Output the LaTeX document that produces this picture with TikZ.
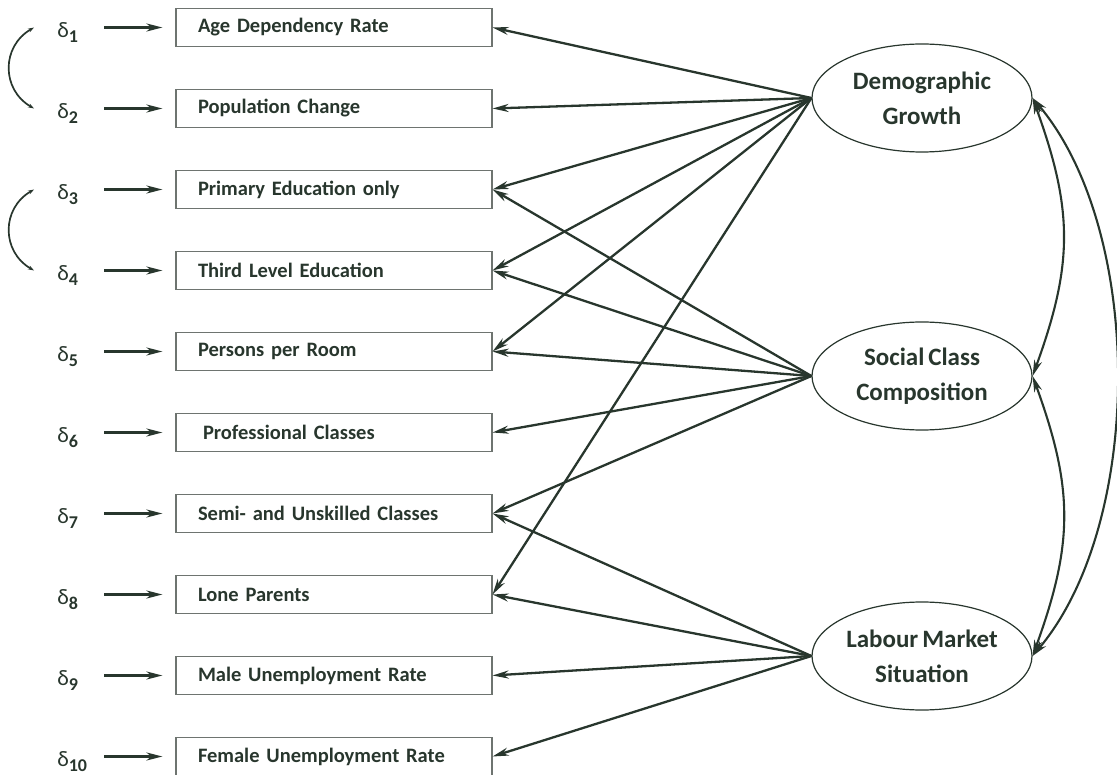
\documentclass[tikz,border=0pt]{standalone}
\usepackage{fontspec}
\setmainfont{Carlito}[WordSpace=0.7]
\usetikzlibrary{arrows.meta,positioning,shapes.geometric}
\definecolor{ink}{HTML}{28362D}
\definecolor{frame}{HTML}{6E7470}
\newcommand{\dlt}[1]{δ\raisebox{-5pt}{\fontsize{18}{18}\selectfont\bfseries #1}}
\tikzset{
    every node/.style={font=\bfseries\fontsize{20.5}{22}\selectfont,text=ink},
    obs node/.style={draw=frame,line width=1.1pt,minimum width=316pt,minimum height=38pt,
        text width=272pt,inner xsep=22pt,align=left},
    lat node/.style={ellipse,draw=ink,line width=1.2pt,minimum width=220pt,minimum height=108pt,
        inner sep=0pt,align=center,font=\bfseries\fontsize{25}{35}\selectfont},
    err node/.style={font=\fontsize{22}{22}\selectfont,text width=24pt,inner sep=0pt,
        align=left,text height=22pt,text depth=2pt},
    path arrow/.style={->,line width=2.3pt,draw=ink},
    err arrow/.style={->,line width=2.4pt,draw=ink,shorten <=23pt,shorten >=13pt},
    cov arrow/.style={<->,line width=2.1pt,draw=ink},
    err cov/.style={{Stealth[length=6pt,width=4pt]}-{Stealth[length=6pt,width=4pt]},line width=1.7pt,draw=ink}
}

\begin{document}
\begin{tikzpicture}[x=1pt,y=-1pt,>={Stealth[length=16pt,width=8pt,inset=5pt]},node distance=41.9pt]
    \useasboundingbox (0,0) rectangle (1117,775);

    % observed indicators
    \node[obs node] (1) at (334,27.5) {Age Dependency Rate};
    \node[obs node] (2) [below=of 1] {Population Change};
    \node[obs node] (3) [below=of 2] {Primary Education only};
    \node[obs node] (4) [below=of 3] {Third Level Education};
    \node[obs node] (5) [below=of 4] {Persons per Room};
    \node[obs node] (6) [below=of 5] {\hspace{5pt}Professional Classes};
    \node[obs node] (7) [below=of 6] {Semi- and Unskilled Classes};
    \node[obs node] (8) [below=of 7] {Lone Parents};
    \node[obs node] (9) [below=of 8] {Male Unemployment Rate};
    \node[obs node] (10) [below=of 9] {Female Unemployment Rate};

    % error terms
    \foreach \i in {1,...,10}
        \node[err node] (d\i) [left=94pt of \i] {\dlt{\i}};

    % latent factors
    \node[lat node] (dg) at (922,98) {Demographic\\Growth};
    \node[lat node] (sc) at (922,376) {Social Class\\Composition};
    \node[lat node] (lm) at (922,656) {Labour Market\\Situation};

    \foreach \i in {1,...,10}
        \draw[err arrow] (d\i) -- (\i);

    \foreach \v in {1,2,3,4,5,8}
        \draw[path arrow] (dg.west) -- (\v.east);
    \foreach \v in {3,4,5,6,7}
        \draw[path arrow] (sc.west) -- (\v.east);
    \foreach \v in {7,8,9,10}
        \draw[path arrow] (lm.west) -- (\v.east);

    % correlated errors
    \draw[err cov] ([xshift=-23pt]d1.west) to[out=210,in=150,looseness=1.2] ([xshift=-23pt]d2.west);
    \draw[err cov] ([xshift=-23pt]d3.west) to[out=210,in=150,looseness=1.2] ([xshift=-23pt]d4.west);

    % factor covariances
    \draw[cov arrow] (dg.east) to[out=-70,in=70,looseness=1.1] (sc.east);
    \draw[cov arrow] (sc.east) to[out=-70,in=70,looseness=1.1] (lm.east);
    \draw[cov arrow] (dg.east) to[out=-50,in=50,looseness=0.8] (lm.east);
\end{tikzpicture}
\end{document}
